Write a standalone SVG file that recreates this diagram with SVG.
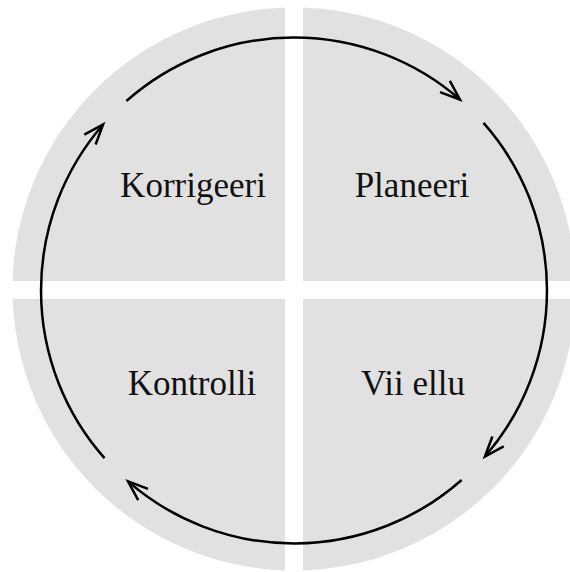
<svg xmlns="http://www.w3.org/2000/svg" width="570" height="572" viewBox="0 0 570 572">
  <style>
    .q { fill: #e1e1e1; }
    .lbl { font-family: "Liberation Serif", "Times New Roman", serif; font-size: 35px; fill: #111; text-anchor: middle; }
    .arc { fill: none; stroke: #000; stroke-width: 2.5; }
  </style>
  <defs>
    <clipPath id="disk">
      <circle cx="294" cy="289" r="281.5"/>
    </clipPath>
    <marker id="arr" markerUnits="userSpaceOnUse" markerWidth="40" markerHeight="40" refX="0" refY="0" orient="auto" overflow="visible">
      <path d="M-20,-7.5 L0,0 L-20,7.5" fill="none" stroke="#000" stroke-width="2.5" stroke-linejoin="miter"/>
    </marker>
  </defs>
  <rect width="570" height="572" fill="#fff"/>
  <g id="korrigeeri">
    <rect class="q" x="0" y="0" width="285" height="281" clip-path="url(#disk)"/>
    <text class="lbl" x="193" y="197">Korrigeeri</text>
  </g>
  <g id="planeeri">
    <rect class="q" x="303" y="0" width="280" height="281" clip-path="url(#disk)"/>
    <text class="lbl" x="412" y="197">Planeeri</text>
  </g>
  <g id="kontrolli">
    <rect class="q" x="0" y="299" width="285" height="280" clip-path="url(#disk)"/>
    <text class="lbl" x="192" y="395">Kontrolli</text>
  </g>
  <g id="vii-ellu">
    <rect class="q" x="303" y="299" width="280" height="280" clip-path="url(#disk)"/>
    <text class="lbl" x="413" y="395">Vii ellu</text>
  </g>
  <g id="connectors">
    <path class="arc" marker-end="url(#arr)" d="M126.4,101.0 A253,253 0 0 1 460.0,99.6"/>
    <path class="arc" marker-end="url(#arr)" d="M483.5,122.9 A253,253 0 0 1 484.9,456.5"/>
    <path class="arc" marker-end="url(#arr)" d="M461.6,480.0 A253,253 0 0 1 128.0,481.4"/>
    <path class="arc" marker-end="url(#arr)" d="M104.5,458.1 A253,253 0 0 1 103.1,124.5"/>
  </g>
</svg>
